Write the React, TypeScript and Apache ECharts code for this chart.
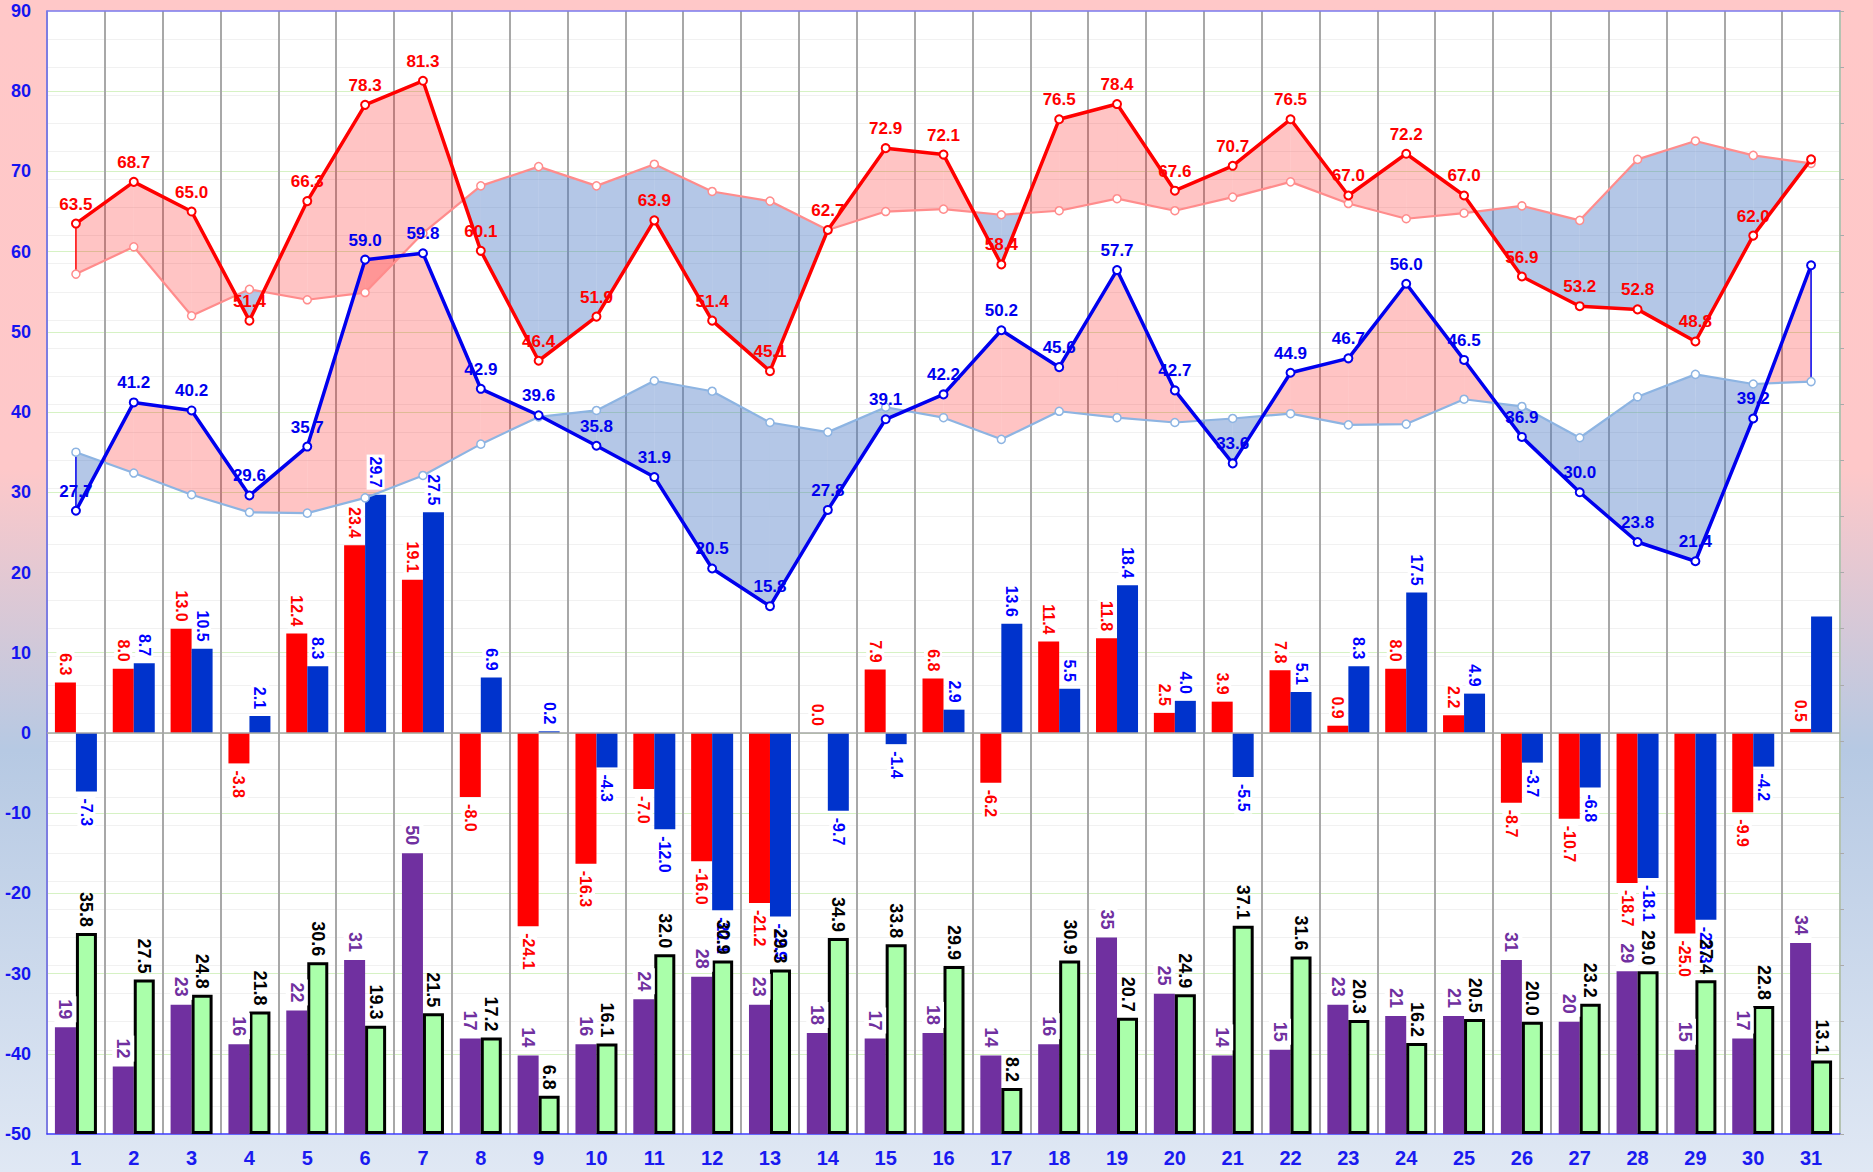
import React, { useEffect, useRef } from 'react';
import * as echarts from 'echarts';

const FONT = '"Liberation Sans", Arial, sans-serif';

const days = ['1','2','3','4','5','6','7','8','9','10','11','12','13','14','15','16','17','18','19','20','21','22','23','24','25','26','27','28','29','30','31'];

const redLine = [63.5, 68.7, 65.0, 51.4, 66.3, 78.3, 81.3, 60.1, 46.4, 51.9, 63.9, 51.4, 45.1, 62.7, 72.9, 72.1, 58.4, 76.5, 78.4, 67.6, 70.7, 76.5, 67.0, 72.2, 67.0, 56.9, 53.2, 52.8, 48.8, 62.0, 71.5];
const pinkLine = [57.2, 60.6, 52.0, 55.3, 54.0, 54.9, 62.3, 68.2, 70.6, 68.2, 70.9, 67.5, 66.3, 62.7, 65.0, 65.3, 64.6, 65.1, 66.6, 65.1, 66.8, 68.7, 66.0, 64.1, 64.8, 65.7, 63.9, 71.5, 73.8, 72.0, 71.0];
const blueLine = [27.7, 41.2, 40.2, 29.6, 35.7, 59.0, 59.8, 42.9, 39.6, 35.8, 31.9, 20.5, 15.8, 27.8, 39.1, 42.2, 50.2, 45.6, 57.7, 42.7, 33.6, 44.9, 46.7, 56.0, 46.5, 36.9, 30.0, 23.8, 21.4, 39.2, 58.3];
const lightBlueLine = [35.0, 32.4, 29.7, 27.5, 27.4, 29.3, 32.1, 36.0, 39.4, 40.2, 43.9, 42.6, 38.7, 37.5, 40.6, 39.3, 36.6, 40.1, 39.3, 38.7, 39.2, 39.8, 38.4, 38.5, 41.6, 40.7, 36.8, 41.9, 44.7, 43.5, 43.8];

const redBars = [6.3, 8.0, 13.0, -3.8, 12.4, 23.4, 19.1, -8.0, -24.1, -16.3, -7.0, -16.0, -21.2, 0.0, 7.9, 6.8, -6.2, 11.4, 11.8, 2.5, 3.9, 7.8, 0.9, 8.0, 2.2, -8.7, -10.7, -18.7, -25.0, -9.9, 0.5];
const blueBars = [-7.3, 8.7, 10.5, 2.1, 8.3, 29.7, 27.5, 6.9, 0.2, -4.3, -12.0, -22.1, -22.9, -9.7, -1.4, 2.9, 13.6, 5.5, 18.4, 4.0, -5.5, 5.1, 8.3, 17.5, 4.9, -3.7, -6.8, -18.1, -23.3, -4.2, 14.5];

const purpleBars = [19, 12, 23, 16, 22, 31, 50, 17, 14, 16, 24, 28, 23, 18, 17, 18, 14, 16, 35, 25, 14, 15, 23, 21, 21, 31, 20, 29, 15, 17, 34];
const greenBars = [35.8, 27.5, 24.8, 21.8, 30.6, 19.3, 21.5, 17.2, 6.8, 16.1, 32.0, 30.9, 29.3, 34.9, 33.8, 29.9, 8.2, 30.9, 20.7, 24.9, 37.1, 31.6, 20.3, 16.2, 20.5, 20.0, 23.2, 29.0, 27.4, 22.8, 13.1];

const leftMin = -50;
const leftMax = 90;
const rightMin = 0;
const rightMax = 200;

const PINK_FILL = 'rgba(255,0,0,0.23)';
const BLUE_FILL = 'rgba(68,114,196,0.4)';

function makeBand(main: number[], light: number[], edgeColor: string): any {
  const data: number[][] = [];
  for (let i = 0; i < main.length - 1; i++) {
    data.push([i, main[i], light[i], main[i + 1], light[i + 1]]);
  }
  const last = main.length - 2;
  return {
    type: 'custom',
    xAxisIndex: 0,
    yAxisIndex: 0,
    z: 1,
    silent: true,
    encode: { x: 0, y: 1 },
    data,
    renderItem: (params: any, api: any) => {
      const i = api.value(0);
      const a0 = api.value(1), b0 = api.value(2), a1 = api.value(3), b1 = api.value(4);
      const A0 = api.coord([i, a0]);
      const B0 = api.coord([i, b0]);
      const A1 = api.coord([i + 1, a1]);
      const B1 = api.coord([i + 1, b1]);
      const d0 = a0 - b0;
      const d1 = a1 - b1;
      const children: any[] = [];
      const poly = (pts: number[][], c: string) =>
        children.push({ type: 'polygon', shape: { points: pts }, style: { fill: c } });
      if (d0 * d1 >= 0) {
        poly([A0, A1, B1, B0], d0 + d1 >= 0 ? PINK_FILL : BLUE_FILL);
      } else {
        const t = d0 / (d0 - d1);
        const X = [A0[0] + (A1[0] - A0[0]) * t, A0[1] + (A1[1] - A0[1]) * t];
        poly([A0, X, B0], d0 > 0 ? PINK_FILL : BLUE_FILL);
        poly([X, A1, B1], d1 > 0 ? PINK_FILL : BLUE_FILL);
      }
      if (i === 0) {
        children.push({ type: 'line', shape: { x1: A0[0], y1: A0[1], x2: B0[0], y2: B0[1] }, style: { stroke: edgeColor, lineWidth: 1.5 } });
      }
      if (i === last) {
        children.push({ type: 'line', shape: { x1: A1[0], y1: A1[1], x2: B1[0], y2: B1[1] }, style: { stroke: edgeColor, lineWidth: 1.5 } });
      }
      return { type: 'group', children };
    },
  };
}

function barItems(vals: number[], hideLast: boolean) {
  return vals.map((v, i) => ({
    value: v,
    label: {
      show: !(hideLast && i === vals.length - 1),
      position: v >= 0 ? 'top' : 'bottom',
      align: v >= 0 ? 'right' : 'left',
    },
  }));
}

function lineItems(vals: number[]) {
  return vals.map((v, i) => (i === vals.length - 1 ? { value: v, label: { show: false } } : { value: v }));
}

function mainLine(vals: number[], color: string): any {
  return {
    type: 'line',
    xAxisIndex: 0,
    yAxisIndex: 0,
    z: 4,
    data: lineItems(vals),
    symbol: 'circle',
    symbolSize: 8,
    showSymbol: true,
    lineStyle: { color, width: 3.5 },
    itemStyle: { color: '#ffffff', borderColor: color, borderWidth: 2 },
    label: {
      show: true,
      position: 'top',
      distance: 6,
      color,
      fontSize: 17,
      fontWeight: 'bold',
      fontFamily: FONT,
      formatter: (p: any) => Number(p.value).toFixed(1),
    },
    emphasis: { disabled: true },
  };
}

function lightLine(vals: number[], color: string): any {
  return {
    type: 'line',
    xAxisIndex: 0,
    yAxisIndex: 0,
    z: 3,
    data: vals,
    symbol: 'circle',
    symbolSize: 8,
    showSymbol: true,
    lineStyle: { color, width: 2.2 },
    itemStyle: { color: '#ffffff', borderColor: color, borderWidth: 1.5 },
    label: { show: false },
    emphasis: { disabled: true },
  };
}

function smallBarLabel(color: string) {
  return {
    show: true,
    rotate: -90,
    verticalAlign: 'middle',
    distance: 5,
    color,
    fontSize: 16,
    fontWeight: 'bold',
    fontFamily: FONT,
    backgroundColor: '#ffffff',
    padding: [1, 2],
    formatter: (p: any) => Number(p.value).toFixed(1),
  };
}

export default function App() {
  const ref = useRef<HTMLDivElement>(null);
  useEffect(() => {
    if (!ref.current) return;
    const chart = echarts.init(ref.current, null, { renderer: 'svg' });
    const option: any = {
      animation: false,
      backgroundColor: new echarts.graphic.LinearGradient(0, 0, 0, 1, [
        { offset: 0, color: '#ffc8c8' },
        { offset: 0.4, color: '#fec8c9' },
        { offset: 0.64, color: '#b6c9e3' },
        { offset: 1, color: '#e0e8f4' },
      ]),
      grid: { left: 47, right: 33, top: 11, bottom: 38, show: true, backgroundColor: '#ffffff', borderWidth: 0 },
      xAxis: [
        {
          type: 'category',
          data: days,
          position: 'bottom',
          axisLine: { show: true, onZero: false, lineStyle: { color: '#3b3bff', width: 1.5 } },
          axisTick: { show: false },
          axisLabel: { color: '#1a1af0', fontSize: 20, fontWeight: 'bold', fontFamily: FONT, margin: 14, interval: 0 },
          splitLine: { show: true, interval: 0, lineStyle: { color: '#a8a8a8', width: 2 } },
        },
        {
          type: 'category',
          data: days,
          position: 'top',
          axisLine: { show: true, onZero: false, lineStyle: { color: '#7c7cf0', width: 1.5 } },
          axisTick: { show: false },
          axisLabel: { show: false },
          splitLine: { show: false },
        },
      ],
      yAxis: [
        {
          type: 'value',
          min: leftMin,
          max: leftMax,
          interval: 10,
          position: 'left',
          axisLine: { show: true, lineStyle: { color: '#6f6ff5', width: 1.5 } },
          axisTick: { show: false },
          axisLabel: { color: '#1515f0', fontSize: 18, fontWeight: 'bold', fontFamily: FONT, margin: 16 },
          splitLine: { show: true, lineStyle: { color: '#d6f2c4', width: 1 } },
        },
        {
          type: 'value',
          min: rightMin,
          max: rightMax,
          interval: 10,
          position: 'right',
          axisLine: { show: true, lineStyle: { color: '#b9ccb6', width: 1.5 } },
          axisTick: { show: true, inside: false, length: 4, lineStyle: { color: '#aaaaaa' } },
          axisLabel: { show: false },
          splitLine: { show: true, lineStyle: { color: '#f1f1f1' } },
          minorTick: { show: false, splitNumber: 2 },
          minorSplitLine: { show: true, lineStyle: { color: '#f1f1f1' } },
        },
      ],
      series: [
        makeBand(redLine, pinkLine, '#ff0000'),
        makeBand(blueLine, lightBlueLine, '#0000ee'),
        {
          type: 'bar',
          xAxisIndex: 0,
          yAxisIndex: 0,
          z: 2,
          barWidth: 21,
          barGap: '0%',
          data: barItems(redBars, false),
          itemStyle: { color: '#ff0000' },
          label: smallBarLabel('#ff0000'),
          emphasis: { disabled: true },
          markLine: {
            silent: true,
            symbol: 'none',
            label: { show: false },
            lineStyle: { color: '#a6a6a6', width: 1.5, type: 'solid' },
            data: [{ yAxis: 0 }],
          },
        },
        {
          type: 'bar',
          xAxisIndex: 0,
          yAxisIndex: 0,
          z: 2,
          barWidth: 21,
          barGap: '0%',
          data: barItems(blueBars, true),
          itemStyle: { color: '#0033cc' },
          label: smallBarLabel('#0000ff'),
          emphasis: { disabled: true },
        },
        {
          type: 'bar',
          xAxisIndex: 1,
          yAxisIndex: 1,
          z: 2,
          barWidth: 21,
          barGap: '0%',
          data: purpleBars,
          itemStyle: { color: '#7030a0' },
          label: {
            show: true,
            position: 'top',
            rotate: -90,
            align: 'right',
            verticalAlign: 'middle',
            distance: 5,
            color: '#7030a0',
            fontSize: 18,
            fontWeight: 'bold',
            fontFamily: FONT,
            backgroundColor: '#ffffff',
            padding: [2, 3],
            formatter: (p: any) => String(p.value),
          },
          emphasis: { disabled: true },
        },
        {
          type: 'bar',
          xAxisIndex: 1,
          yAxisIndex: 1,
          z: 2,
          barWidth: 21,
          barGap: '0%',
          data: greenBars,
          itemStyle: { color: '#aaffaa', borderColor: '#000000', borderWidth: 3 },
          label: {
            show: true,
            position: 'top',
            rotate: -90,
            align: 'right',
            verticalAlign: 'middle',
            distance: 6,
            color: '#000000',
            fontSize: 18,
            fontWeight: 'bold',
            fontFamily: FONT,
            formatter: (p: any) => Number(p.value).toFixed(1),
          },
          emphasis: { disabled: true },
        },
        lightLine(pinkLine, '#ff8c8c'),
        lightLine(lightBlueLine, '#8db4e2'),
        mainLine(redLine, '#ff0000'),
        mainLine(blueLine, '#0000ee'),
      ],
    };
    chart.setOption(option);
    return () => chart.dispose();
  }, []);
  return <div ref={ref} style={{ position: 'fixed', left: 0, top: 0, width: 1873, height: 1172 }} />;
}
